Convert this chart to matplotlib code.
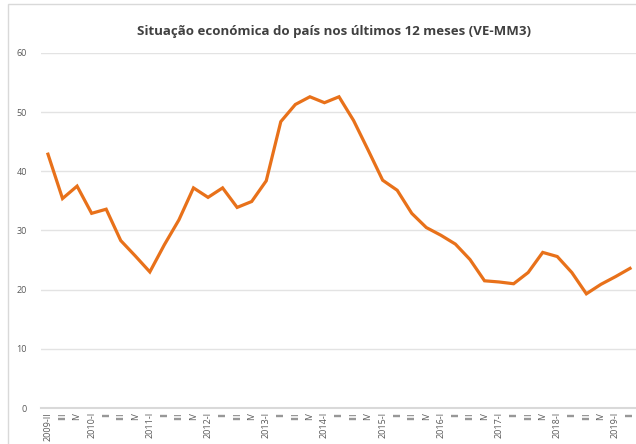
import matplotlib
matplotlib.use('Agg')
import matplotlib.pyplot as plt
from matplotlib.patches import Rectangle

# quarterly labels, 2009-II .. 2019-II
years = list(range(2009, 2020))
quarters = ['I', 'II', 'III', 'IV']
tick_labels = []
for y in years:
    for q in quarters:
        if q == 'I':
            tick_labels.append(f'{y}-I')
        else:
            tick_labels.append(q)
tick_labels = ['2009-II'] + tick_labels[2:-2]

values = [42.9, 35.4, 37.5, 32.9, 33.6, 28.3, 25.7, 23.0, 27.6, 31.8,
          37.2, 35.6, 37.2, 33.9, 34.9, 38.4, 48.4, 51.3, 52.6, 51.6,
          52.6, 48.6, 43.6, 38.5, 36.8, 32.9, 30.5, 29.2, 27.7, 25.1,
          21.5, 21.3, 21.0, 22.9, 26.3, 25.6, 22.9, 19.3, 20.9, 22.2, 23.6]

title = 'Situação económica do país nos últimos 12 meses (VE-MM3)'

plt.rcParams['font.family'] = ['Open Sans', 'DejaVu Sans']

W, H = 636, 444
fig = plt.figure(figsize=(W / 100, H / 100), dpi=100)

# faint chart frame like the spreadsheet export
fig.patches.append(Rectangle((8 / W, -0.01), 1.0, 1 - 4 / H + 0.01, transform=fig.transFigure,
                             fill=False, edgecolor='#D9D9D9', linewidth=1))

ax = fig.add_axes([40.7 / W, 36 / H, 596.6 / W, 355 / H])
x = list(range(len(values)))
ax.plot(x, values, color='#E8711A', linewidth=2.3, solid_joinstyle='miter', zorder=3)

ax.set_xlim(-0.5, len(values) - 0.5)
ax.set_ylim(0, 60)
ax.set_yticks(range(0, 61, 10))
ax.set_xticks(x)
ax.set_xticklabels(tick_labels, rotation=90, fontsize=6.5, color='#595959')
ax.tick_params(axis='y', labelsize=6.5, labelcolor='#595959', length=0, pad=10)
ax.tick_params(axis='x', length=0, pad=3)

ax.grid(axis='y', color='#E3E3E3', linewidth=1)
ax.set_axisbelow(True)
for s in ['top', 'right', 'left']:
    ax.spines[s].set_visible(False)
ax.spines['bottom'].set_color('#D9D9D9')
ax.spines['bottom'].set_linewidth(1.5)

fig.text(334 / W, 1 - 31 / H, title, ha='center', va='center', fontsize=9.5,
         fontweight='bold', color='#404040')

fig.savefig('out.png', dpi=100)
